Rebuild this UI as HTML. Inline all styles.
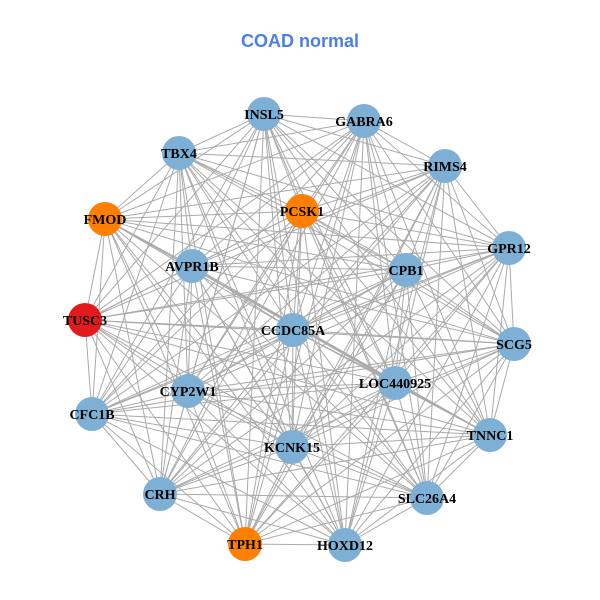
<!DOCTYPE html>
<html><head><meta charset="utf-8"><style>
html,body{margin:0;padding:0;background:#fff;}
svg{display:block}
</style></head><body>
<svg id="s" width="600" height="600" xmlns="http://www.w3.org/2000/svg">
<rect width="600" height="600" fill="#fff"/>
<text x="300" y="47" text-anchor="middle" font-family="Liberation Sans, sans-serif" font-weight="bold" font-size="18" fill="#4C7FE6">COAD normal</text>
<g id="edges" stroke="#AAAAAA" stroke-width="1"></g>
<g id="nodes"></g>
<g id="labels" font-family="Liberation Serif, serif" font-weight="bold" font-size="14" fill="#000" text-anchor="middle"></g>
</svg>
<script>
var N=[
["INSL5",264,114,"b"],["GABRA6",364,121,"b"],["TBX4",179,153,"b"],["RIMS4",445,166,"b"],
["FMOD",105,219,"o"],["PCSK1",302,211,"o"],["GPR12",509,248,"b"],["AVPR1B",192,266,"b"],
["CPB1",406,270,"b"],["TUSC3",85,320,"r"],["CCDC85A",293,330,"b"],["SCG5",514,344,"b"],
["CYP2W1",188,391,"b"],["LOC440925",395,383,"b"],["CFC1B",92,414,"b"],["TNNC1",490,435,"b"],
["KCNK15",292,447,"b"],["CRH",160,494,"b"],["SLC26A4",427,498,"b"],["TPH1",245,544,"o"],["HOXD12",345,545,"b"]];
var C={b:"#7EB0D5",o:"#FF7F00",r:"#E31A1C"};
var ns="http://www.w3.org/2000/svg";
var E=document.getElementById("edges"),G=document.getElementById("nodes"),L=document.getElementById("labels");
for(var i=0;i<N.length;i++)for(var j=i+1;j<N.length;j++){
 var l=document.createElementNS(ns,"line");
 l.setAttribute("x1",N[i][1]);l.setAttribute("y1",N[i][2]);l.setAttribute("x2",N[j][1]);l.setAttribute("y2",N[j][2]);
 E.appendChild(l);}
N.forEach(function(n){
 var c=document.createElementNS(ns,"circle");c.setAttribute("cx",n[1]);c.setAttribute("cy",n[2]);c.setAttribute("r",17);c.setAttribute("fill",C[n[3]]);G.appendChild(c);
 var t=document.createElementNS(ns,"text");t.setAttribute("x",n[1]);t.setAttribute("y",n[2]+5);t.textContent=n[0];L.appendChild(t);
});
</script>
</body></html>
